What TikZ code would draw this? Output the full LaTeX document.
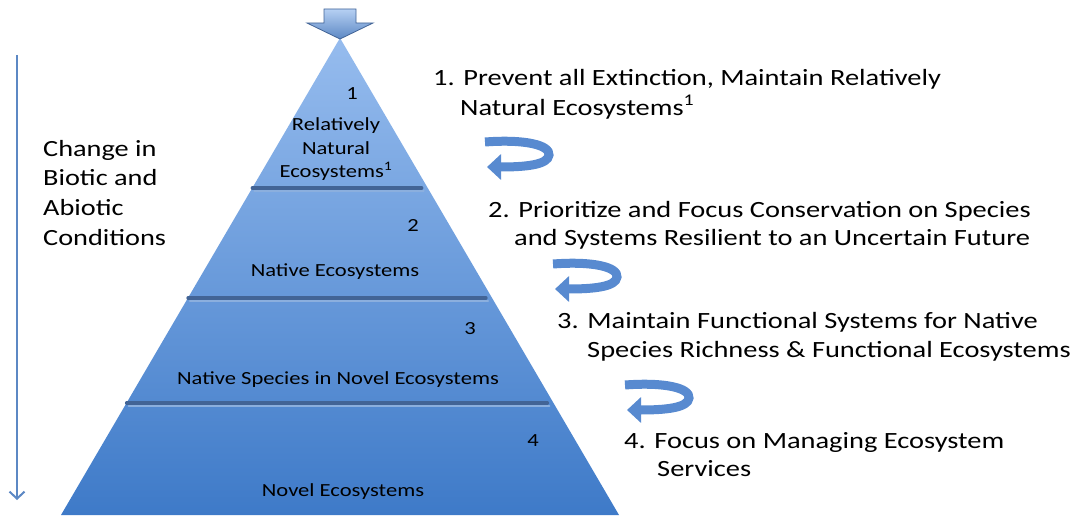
\documentclass[tikz,border=0pt]{standalone}
\usepackage{fontspec}
\setmainfont{Carlito}[FakeStretch=1.22]
\usetikzlibrary{arrows.meta,calc}
\definecolor{pyrtop}{RGB}{150,188,238}
\definecolor{pyrbot}{RGB}{62,122,200}
\definecolor{rimblue}{RGB}{66,100,150}
\definecolor{steel}{RGB}{92,136,196}
\definecolor{turnblue}{RGB}{88,138,208}
\tikzset{
  tier/.style={font=\fontsize{18.5}{22}\selectfont, anchor=base, inner sep=0pt},
  aim/.style={font=\fontsize{23.3}{28}\selectfont, anchor=base west, inner sep=0pt},
  side/.style={font=\fontsize{23.2}{30}\selectfont, anchor=base west, inner sep=0pt},
  rim/.style={line width=3.2pt, draw=rimblue, line cap=round},
}

\begin{document}
\begin{tikzpicture}[x=1pt,y=-1pt]
\tikzset{uturn/.pic={\draw[turnblue, line width=9pt, -{Triangle[width=25pt,length=14pt]}] (0,7) .. controls (40,4) and (65,10) .. (64,20) .. controls (63,30) and (40,32) .. (2,32);}}
\useasboundingbox (0,0) rectangle (1075,516);
% pyramid
\coordinate (apex) at (340,38);
\coordinate (bl) at (61,515);
\coordinate (br) at (619,515);
\shade[top color=pyrtop, bottom color=pyrbot] (apex) -- (bl) -- (br) -- cycle;
\foreach \t [count=\i] in {0.3145,0.545,0.765} {
  \draw[rim, draw=pyrbot!60!white, line width=2pt] ($(apex)!\t!(bl)+(2,3)$) -- ($(apex)!\t!(br)+(-4,3)$);
  \draw[rim] ($(apex)!\t!(bl)+(0,0)$) -- ($(apex)!\t!(br)+(-6,0)$);
}
% drop arrow on top
\draw[rimblue, line width=0.8pt, top color=pyrtop!70, bottom color=steel] (324,9) -- (356,9) -- (356,23) -- (373,23) -- (340,39) -- (307,23) -- (324,23) -- cycle;
% tiers
\node[tier] (n1) at (352,100) {1};
\node[tier] (lvl1a) at (336,131) {Relatively};
\node[tier] (lvl1b) at (336,154) {Natural};
\node[tier] (lvl1c) at (336,177) {Ecosystems\textsuperscript{1}};
\node[tier] (n2) at (413,231) {2};
\node[tier] (lvl2) at (335,276) {Native Ecosystems};
\node[tier] (n3) at (470,334) {3};
\node[tier] (lvl3) at (338,384) {Native Species in Novel Ecosystems};
\node[tier] (n4) at (533,446) {4};
\node[tier] (lvl4) at (343,496) {Novel Ecosystems};
% change arrow
\coordinate (chgtop) at (17,55);
\coordinate (chgbot) at (17,500);
\draw[steel, line width=2pt, -{Straight Barb[length=7pt,width=15pt]}] (chgtop) -- (chgbot);
\node[side] (chg1) at (43,156) {Change in};
\node[side] (chg2) at (43,185) {Biotic and};
\node[side] (chg3) at (43,215) {Abiotic};
\node[side] (chg4) at (43,245) {Conditions};
% aims
\node[aim] (aim1a) at (433,86) {1. Prevent all Extinction, Maintain Relatively};
\node[aim] (aim1b) at (460,115) {Natural Ecosystems\textsuperscript{1}};
\node[aim] (aim2a) at (488,217) {2. Prioritize and Focus Conservation on Species};
\node[aim] (aim2b) at (514,245) {and Systems Resilient to an Uncertain Future};
\node[aim] (aim3a) at (557,328) {3. Maintain Functional Systems for Native};
\node[aim] (aim3b) at (587,357) {Species Richness \& Functional Ecosystems};
\node[aim] (aim4a) at (624,448) {4. Focus on Managing Ecosystem};
\node[aim] (aim4b) at (657,476) {Services};
% u-turn arrows
\pic at (485,135) {uturn};
\pic at (553,257) {uturn};
\pic at (625,378) {uturn};
\end{tikzpicture}
\end{document}
